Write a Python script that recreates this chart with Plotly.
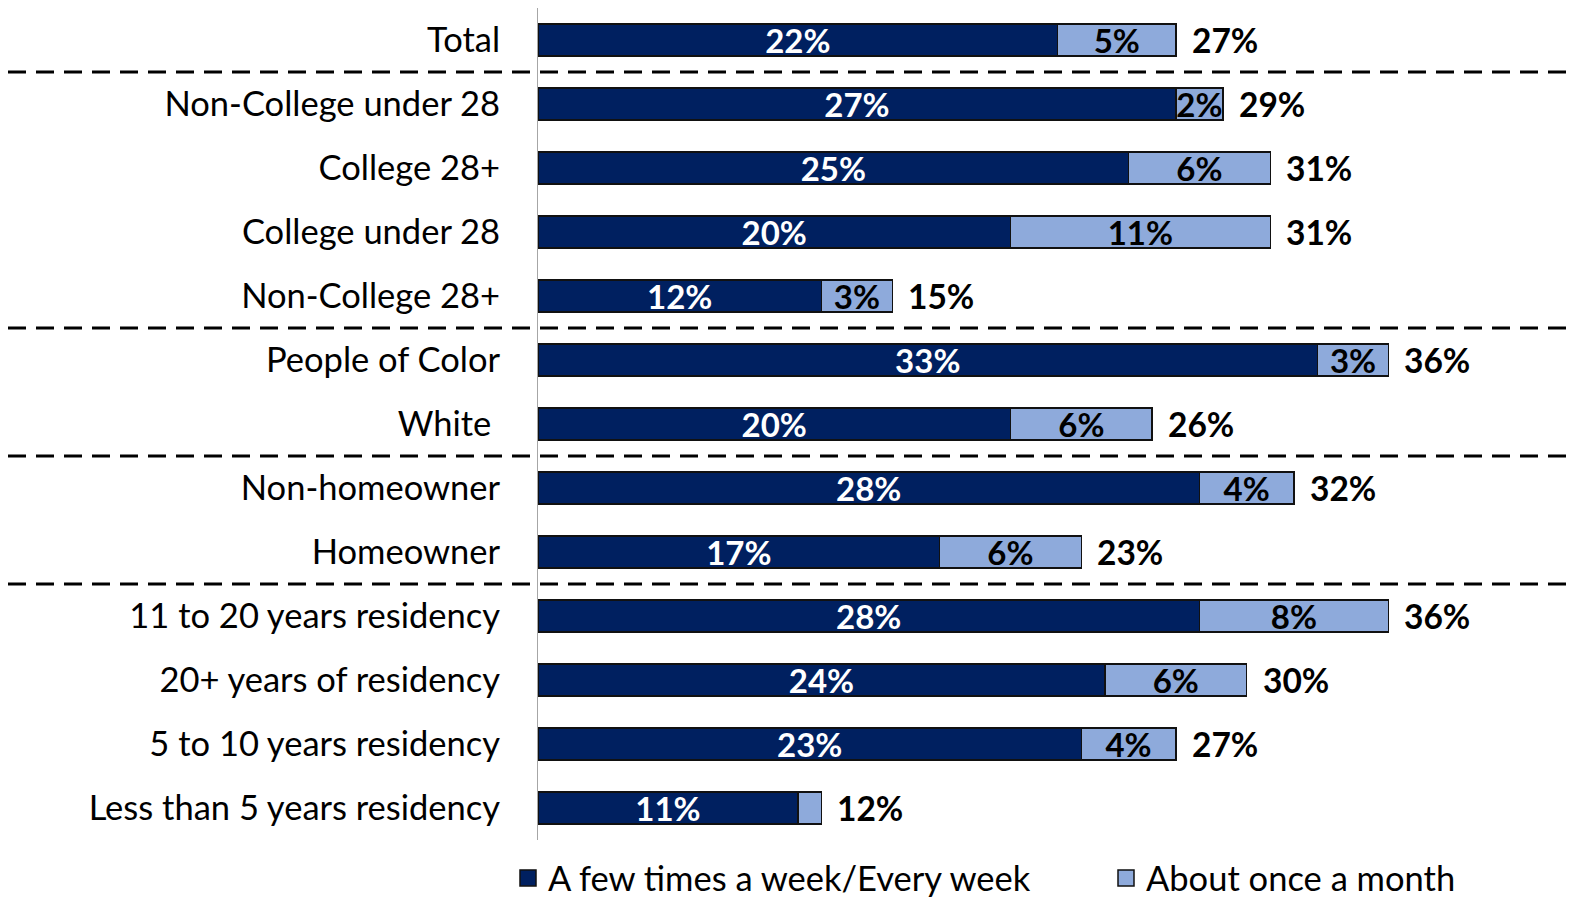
import plotly.graph_objects as go

categories = ["Total", "Non-College under 28", "College 28+", "College under 28",
              "Non-College 28+", "People of Color", "White\u00a0", "Non-homeowner",
              "Homeowner", "11 to 20 years residency", "20+ years of residency",
              "5 to 10 years residency", "Less than 5 years residency"]
weekly = [22, 27, 25, 20, 12, 33, 20, 28, 17, 28, 24, 23, 11]
monthly = [5, 2, 6, 11, 3, 3, 6, 4, 6, 8, 6, 4, 1]
totals = [27, 29, 31, 31, 15, 36, 26, 32, 23, 36, 30, 27, 12]
weekly_labels = ["22%", "27%", "25%", "20%", "12%", "33%", "20%", "28%", "17%", "28%", "24%", "23%", "11%"]
monthly_labels = ["5%", "2%", "6%", "11%", "3%", "3%", "6%", "4%", "6%", "8%", "6%", "4%", ""]
series_names = ["A few times a week/Every week", "About once a month"]
separators = [0.5, 4.5, 6.5, 8.5]

FONT = "Lato"
DARK = "#002060"
LIGHT = "#8eaadb"

W, H = 1568, 894          # page body has an 8px margin
L, R, T, B = 530, 0, 0, 62
PW = W - L - R
PH = H - T - B

idx = list(range(len(categories)))

fig = go.Figure()
fig.add_trace(go.Bar(
    y=idx, x=weekly, orientation="h", name=series_names[0], showlegend=False,
    marker=dict(color=DARK, line=dict(color="#111111", width=1.5)),
    text=weekly_labels, textposition="inside", insidetextanchor="middle",
    constraintext="none",
    textfont=dict(family=FONT, size=33, color="white", weight="bold"),
    width=0.5,
))
fig.add_trace(go.Bar(
    y=idx, x=monthly, orientation="h", name=series_names[1], showlegend=False,
    marker=dict(color=LIGHT, line=dict(color="#111111", width=1.5)),
    text=monthly_labels, textposition="inside", insidetextanchor="middle",
    constraintext="none",
    textfont=dict(family=FONT, size=33, color="black", weight="bold"),
    width=0.5,
))

# legend proxies
for name, col, lg in [(series_names[0], DARK, "legend"), (series_names[1], LIGHT, "legend2")]:
    fig.add_trace(go.Scatter(
        x=[None], y=[None], mode="markers", name=name, legend=lg, showlegend=True,
        marker=dict(symbol="square", size=18, color=col, line=dict(color="#111111", width=1.5)),
    ))

for i, t in enumerate(totals):
    fig.add_annotation(x=t, y=i, xref="x", yref="y", text=f"{t}%", showarrow=False,
                       xanchor="left", xshift=14,
                       font=dict(family=FONT, size=33.5, color="black", weight="bold"))

for s in separators:
    fig.add_shape(type="line", xref="paper", yref="y", x0=-L / PW, x1=1, y0=s, y1=s,
                  line=dict(color="black", width=3, dash="18px,10px"))

leg_common = dict(orientation="h", yanchor="top", y=-9 / PH, itemwidth=30,
                  font=dict(family=FONT, size=34.5, color="black"),
                  bgcolor="rgba(0,0,0,0)")

fig.update_layout(
    width=W, height=H,
    margin=dict(l=L, r=R, t=T, b=B, autoexpand=False),
    barmode="stack",
    plot_bgcolor="white", paper_bgcolor="white",
    font=dict(family=FONT, size=34.5, color="black"),
    legend=dict(x=(500 - L) / PW, xanchor="left", **leg_common),
    legend2=dict(x=(1098 - L) / PW, xanchor="left", **leg_common),
    xaxis=dict(range=[0, 43.94], visible=False, automargin=False),
    yaxis=dict(range=[12.5, -0.5], tickvals=idx, ticktext=categories, automargin=False,
               showline=True, linecolor="#a6a6a6", linewidth=1, showgrid=False,
               zeroline=False, ticks="", ticklabelstandoff=30,
               tickfont=dict(family=FONT, size=34.5, color="black")),
)

fig.write_html("out.html")
